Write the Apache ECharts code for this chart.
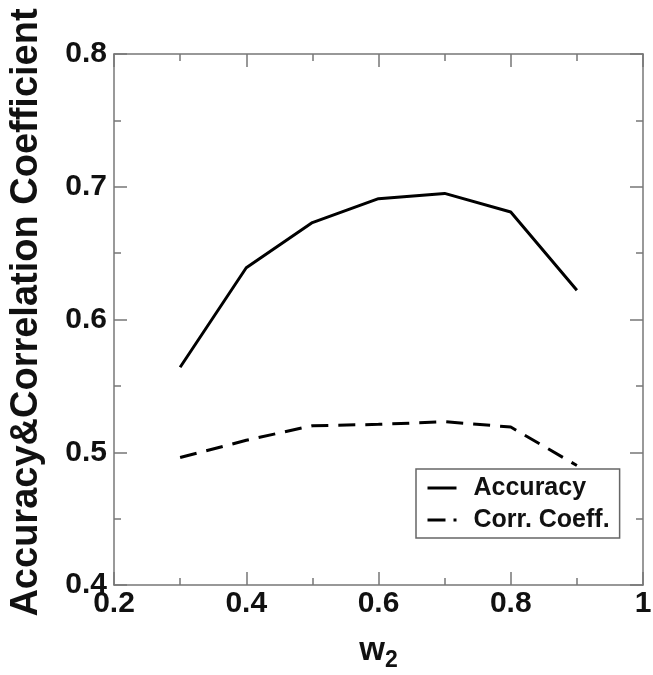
<!DOCTYPE html>
<html>
<head>
<meta charset="utf-8">
<script src="https://cdn.jsdelivr.net/npm/echarts@6/dist/echarts.min.js"></script>
<style>
  html, body { margin: 0; padding: 0; background: #fff; }
  #chart { width: 653px; height: 675px; }
</style>
</head>
<body>
<div id="chart"></div>
<script>
var w2 = [0.3, 0.4, 0.5, 0.6, 0.7, 0.8, 0.9];
var accuracy = [0.564, 0.639, 0.673, 0.691, 0.695, 0.681, 0.622];
var corrCoeff = [0.496, 0.509, 0.520, 0.521, 0.523, 0.519, 0.490];
var xTickLabels = { '0.2': '0.2', '0.4': '0.4', '0.6': '0.6', '0.8': '0.8', '1': '1' };
var yTickLabels = { '0.4': '0.4', '0.5': '0.5', '0.6': '0.6', '0.7': '0.7', '0.8': '0.8' };

var chart = echarts.init(document.getElementById('chart'));

var axisColor = '#777';
var font = 'Liberation Sans, Arial, sans-serif';

function pairs(xs, ys) {
    var out = [];
    for (var i = 0; i < xs.length; i++) out.push([xs[i], ys[i]]);
    return out;
}

// 四边框都画刻度
function frameAxis(base, extra) {
    var a = {
        type: 'value',
        axisLine: { show: true, lineStyle: { color: axisColor, width: 1.5 } },
        axisTick: { show: true, inside: true, length: 13, lineStyle: { color: axisColor, width: 1.5 } },
        minorTick: { show: true, splitNumber: 2, length: 7, lineStyle: { color: axisColor, width: 1.5 } },
        splitLine: { show: false },
        minorSplitLine: { show: false }
    };
    for (var k in base) a[k] = base[k];
    for (var k2 in extra) a[k2] = extra[k2];
    return a;
}

var xBase = { min: 0.2, max: 1.0, interval: 0.2 };
var yBase = { min: 0.4, max: 0.8, interval: 0.1 };

var option = {
    backgroundColor: '#fff',
    animation: false,
    grid: { left: 114, right: 10, top: 54, bottom: 90, outerBoundsMode: 'none', containLabel: false },
    legend: {
        left: 416,
        top: 469,
        orient: 'vertical',
        padding: [4, 10, 3, 10],
        itemGap: 2,
        itemWidth: 29,
        itemHeight: 14,
        borderColor: '#666',
        borderWidth: 1.5,
        borderRadius: 0,
        backgroundColor: '#fff',
        itemStyle: { opacity: 0 },
        textStyle: { fontFamily: font, fontWeight: 'bold', fontSize: 25, color: '#111', padding: [0, 0, 0, 12], lineHeight: 30 },
        data: [
            { name: 'Accuracy', lineStyle: { type: 'solid', width: 3, opacity: 1 } },
            { name: 'Corr. Coeff.', lineStyle: { type: [18, 8, 3, 8], width: 3, opacity: 1 } }
        ]
    },
    xAxis: [
        frameAxis(xBase, {
            position: 'bottom',
            name: '{w|w}{s|2}',
            nameLocation: 'middle',
            nameGap: 44,
            nameTextStyle: {
                rich: {
                    w: { fontFamily: font, fontWeight: 'bold', fontSize: 33, color: '#111' },
                    s: { fontFamily: font, fontWeight: 'bold', fontSize: 23, color: '#111', padding: [20, 0, 0, 0] }
                }
            },
            axisLabel: {
                margin: 4,
                fontFamily: font, fontWeight: 'bold', fontSize: 30, color: '#111',
                formatter: function (v) {
                    var key = String(Math.round(v * 10) / 10);
                    return xTickLabels[key] || '';
                }
            }
        }),
        frameAxis(xBase, { position: 'top', axisLabel: { show: false } })
    ],
    yAxis: [
        frameAxis(yBase, {
            position: 'left',
            name: 'Accuracy&Correlation Coefficient',
            nameLocation: 'middle',
            nameGap: 68,
            nameTextStyle: { fontFamily: font, fontWeight: 'bold', fontSize: 38, color: '#111', padding: [0, 0, 0, 14] },
            axisLabel: {
                margin: 7,
                fontFamily: font, fontWeight: 'bold', fontSize: 30, color: '#111',
                formatter: function (v) {
                    var key = String(Math.round(v * 10) / 10);
                    return yTickLabels[key] || '';
                }
            }
        }),
        frameAxis(yBase, { position: 'right', axisLabel: { show: false } })
    ],
    series: [
        {
            name: 'Accuracy',
            type: 'line',
            data: pairs(w2, accuracy),
            showSymbol: false,
            symbol: 'none',
            lineStyle: { color: '#000', width: 3, type: 'solid' },
            itemStyle: { color: '#000' }
        },
        {
            name: 'Corr. Coeff.',
            type: 'line',
            data: pairs(w2, corrCoeff),
            showSymbol: false,
            symbol: 'none',
            lineStyle: { color: '#000', width: 3, type: [17, 10] },
            itemStyle: { color: '#000' }
        }
    ]
};

chart.setOption(option);
</script>
</body>
</html>
